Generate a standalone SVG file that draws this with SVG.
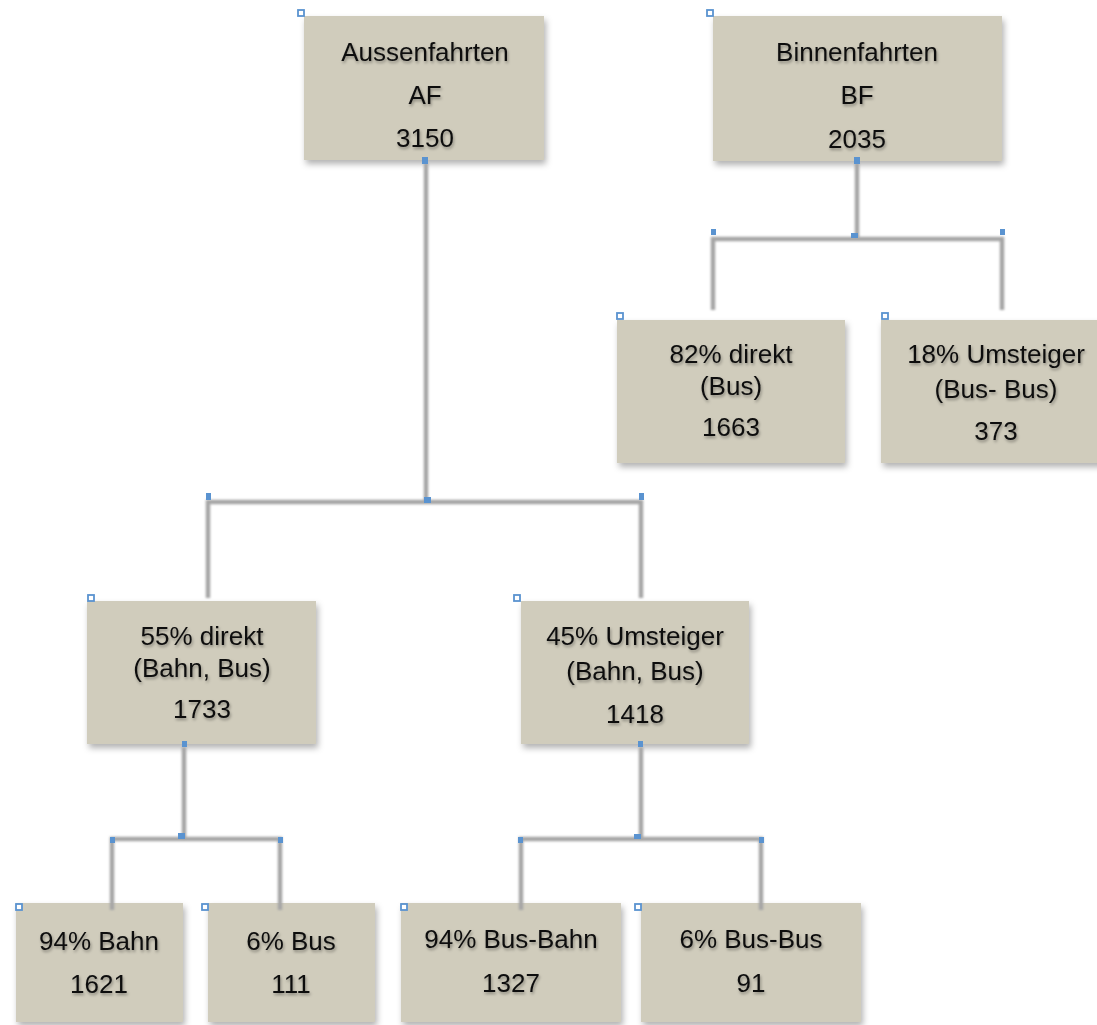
<svg xmlns="http://www.w3.org/2000/svg" width="1097" height="1025" viewBox="0 0 1097 1025">
<defs>
<filter id="boxsh" x="-10%" y="-10%" width="125%" height="130%">
<feDropShadow dx="2" dy="4" stdDeviation="3" flood-color="#000" flood-opacity="0.3"/>
</filter>
<filter id="txtsh" x="-10%" y="-30%" width="120%" height="170%">
<feDropShadow dx="1" dy="2" stdDeviation="1.5" flood-color="#000" flood-opacity="0.35"/>
</filter>
<filter id="linesh" filterUnits="userSpaceOnUse" x="0" y="0" width="1097" height="1025">
<feGaussianBlur stdDeviation="0.8"/>
</filter>
</defs>
<style>
.box{fill:#D0CCBC;filter:url(#boxsh);}
.t{font-family:"Liberation Sans",Arial,sans-serif;font-size:26px;fill:#111;text-anchor:middle;filter:url(#txtsh);}
.conn{fill:none;stroke:#A6A6A6;stroke-width:4.5;filter:url(#linesh);}
.h{fill:#fff;stroke:#5A93D0;stroke-width:1.8;}
.f{fill:#5A93D0;}
</style>
<rect width="1097" height="1025" fill="#fff"/>
<g id="node-af">
<rect class="box" x="304" y="16" width="240" height="144"/>
<rect class="h" x="298" y="10" width="6" height="6"/>
<text class="t" x="425" y="61">Aussenfahrten</text>
<text class="t" x="425" y="104">AF</text>
<text class="t" x="425" y="147">3150</text>
</g>
<g id="node-bf">
<rect class="box" x="713" y="16" width="289" height="145"/>
<rect class="h" x="707" y="10" width="6" height="6"/>
<text class="t" x="857" y="61">Binnenfahrten</text>
<text class="t" x="857" y="104">BF</text>
<text class="t" x="857" y="148">2035</text>
</g>
<g id="node-82">
<rect class="box" x="617" y="320" width="228" height="143"/>
<rect class="h" x="617" y="313" width="6" height="6"/>
<text class="t" x="731" y="363">82% direkt</text>
<text class="t" x="731" y="395">(Bus)</text>
<text class="t" x="731" y="436">1663</text>
</g>
<g id="node-18">
<rect class="box" x="881" y="320" width="232" height="143"/>
<rect class="h" x="882" y="313" width="6" height="6"/>
<text class="t" x="996" y="363">18% Umsteiger</text>
<text class="t" x="996" y="398">(Bus- Bus)</text>
<text class="t" x="996" y="440">373</text>
</g>
<g id="node-55">
<rect class="box" x="87" y="601" width="229" height="143"/>
<rect class="h" x="88" y="595" width="6" height="6"/>
<text class="t" x="202" y="645">55% direkt</text>
<text class="t" x="202" y="677">(Bahn, Bus)</text>
<text class="t" x="202" y="718">1733</text>
</g>
<g id="node-45">
<rect class="box" x="521" y="601" width="228" height="143"/>
<rect class="h" x="514" y="595" width="6" height="6"/>
<text class="t" x="635" y="645">45% Umsteiger</text>
<text class="t" x="635" y="680">(Bahn, Bus)</text>
<text class="t" x="635" y="723">1418</text>
</g>
<g id="node-94bahn">
<rect class="box" x="16" y="903" width="167" height="119"/>
<rect class="h" x="16" y="904" width="6" height="6"/>
<text class="t" x="99" y="950">94% Bahn</text>
<text class="t" x="99" y="993">1621</text>
</g>
<g id="node-6bus">
<rect class="box" x="208" y="903" width="167" height="119"/>
<rect class="h" x="202" y="904" width="6" height="6"/>
<text class="t" x="291" y="950">6% Bus</text>
<text class="t" x="291" y="993">111</text>
</g>
<g id="node-94busbahn">
<rect class="box" x="401" y="903" width="220" height="119"/>
<rect class="h" x="401" y="904" width="6" height="6"/>
<text class="t" x="511" y="948">94% Bus-Bahn</text>
<text class="t" x="511" y="992">1327</text>
</g>
<g id="node-6busbus">
<rect class="box" x="641" y="903" width="220" height="119"/>
<rect class="h" x="635" y="904" width="6" height="6"/>
<text class="t" x="751" y="948">6% Bus-Bus</text>
<text class="t" x="751" y="992">91</text>
</g>
<g id="connectors">
<path class="conn" d="M426 163 V502"/>
<path class="conn" d="M208 598 V502 H641 V598"/>
<path class="conn" d="M857 163 V238"/>
<path class="conn" d="M713 310 V239 H1002 V310"/>
<path class="conn" d="M184 747 V839"/>
<path class="conn" d="M112 910 V839 H280 V910"/>
<path class="conn" d="M641 747 V839"/>
<path class="conn" d="M521 910 V839 H761 V910"/>
<rect class="f" x="422" y="157" width="6" height="7"/>
<rect class="f" x="424" y="497" width="7" height="6"/>
<rect class="f" x="206" y="493" width="5" height="7"/>
<rect class="f" x="639" y="493" width="5" height="7"/>
<rect class="f" x="854" y="157" width="6" height="7"/>
<rect class="f" x="851" y="233" width="7" height="5"/>
<rect class="f" x="711" y="229" width="5" height="6"/>
<rect class="f" x="1000" y="229" width="5" height="6"/>
<rect class="f" x="182" y="741" width="5" height="6"/>
<rect class="f" x="178" y="833" width="7" height="6"/>
<rect class="f" x="110" y="837" width="5" height="6"/>
<rect class="f" x="278" y="837" width="5" height="6"/>
<rect class="f" x="638" y="741" width="5" height="6"/>
<rect class="f" x="634" y="834" width="7" height="5"/>
<rect class="f" x="518" y="837" width="5" height="6"/>
<rect class="f" x="759" y="837" width="5" height="6"/>
</g>
</svg>
